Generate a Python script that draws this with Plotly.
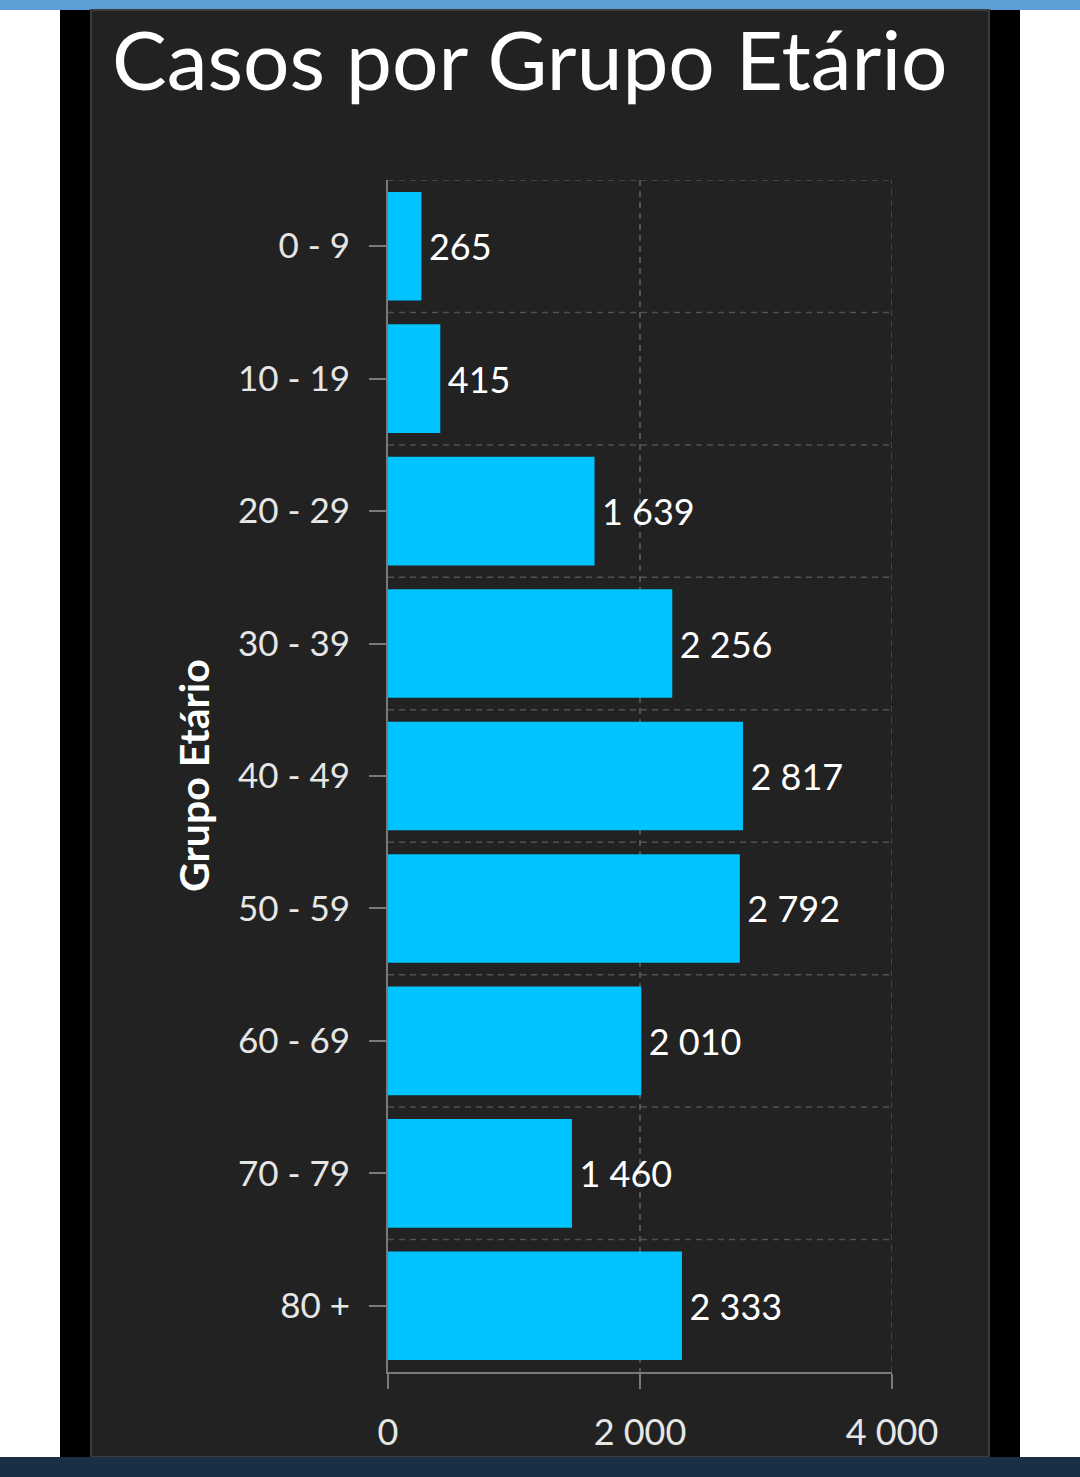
import plotly.graph_objects as go

grupos = ["0 - 9", "10 - 19", "20 - 29", "30 - 39", "40 - 49",
          "50 - 59", "60 - 69", "70 - 79", "80 +"]
casos = [265, 415, 1639, 2256, 2817, 2792, 2010, 1460, 2333]
x_ticks = [0, 2000, 4000]

W, H = 1080, 1477
# plot area in pixels
L, R, T, B = 388, 892, 180, 1372


def px(x):
    return (x - L) / (R - L)


def py(y):
    return (B - y) / (B - T)


fig = go.Figure(go.Bar(
    x=casos, y=grupos, orientation="h",
    marker=dict(color="#00c3ff", line_width=0),
    texttemplate="\u2009%{x:,}", textposition="outside",
    textfont=dict(size=36, color="white"),
    constraintext="none", cliponaxis=False,
    hoverinfo="skip",
))

grid = dict(color="#525252", width=1.5, dash="6px,5px")
shapes = [
    dict(type="rect", xref="paper", yref="paper", x0=px(0), x1=px(W),
         y0=py(0), y1=py(10), fillcolor="#5b9fd6", line_width=0, layer="below"),
    dict(type="rect", xref="paper", yref="paper", x0=px(60), x1=px(1020),
         y0=py(10), y1=py(1457), fillcolor="#000000", line_width=0, layer="below"),
    dict(type="rect", xref="paper", yref="paper", x0=px(91), x1=px(989),
         y0=py(10), y1=py(1457), fillcolor="#222222",
         line=dict(color="#3c3c3c", width=2), layer="below"),
    dict(type="rect", xref="paper", yref="paper", x0=px(0), x1=px(W),
         y0=py(1457), y1=py(H), fillcolor="#1a2e44", line_width=0, layer="below"),
    # right edge gridline (4000)
    dict(type="line", xref="x", yref="paper", x0=x_ticks[-1], x1=x_ticks[-1],
         y0=0, y1=1, layer="below", line=grid),
]
# dashed lines between the age groups
for i in range(len(grupos)):
    shapes.append(dict(type="line", xref="paper", yref="y", x0=0, x1=1,
                       y0=i - 0.5, y1=i - 0.5, layer="below", line=grid))

fig.update_layout(
    width=W, height=H,
    margin=dict(l=L, r=W - R, t=T, b=H - B, pad=0),
    paper_bgcolor="white", plot_bgcolor="rgba(0,0,0,0)",
    font=dict(family="Lato", color="#e6e6e6"),
    separators=". ",
    bargap=0.18,
    showlegend=False,
    shapes=shapes,
    annotations=[
        dict(text="Casos por Grupo Etário", xref="paper", yref="paper",
             x=px(110), y=py(58), xanchor="left", yanchor="middle",
             showarrow=False, font=dict(size=82, color="white")),
        dict(text="<b>Grupo Etário</b>", xref="paper", yref="paper",
             x=px(193), y=py(776), textangle=-90, showarrow=False,
             xanchor="center", yanchor="middle",
             font=dict(size=41, color="white")),
    ],
)

fig.update_xaxes(
    range=[0, 4000], tickvals=x_ticks, tickformat=",",
    showgrid=True, gridcolor=grid["color"], griddash=grid["dash"], gridwidth=1.5,
    zeroline=False, showline=True, linecolor="#7a7a7a", linewidth=2,
    ticks="outside", ticklen=15, tickwidth=2, tickcolor="#7a7a7a",
    tickfont=dict(size=36, color="#e6e6e6"), ticklabelstandoff=13,
)
fig.update_yaxes(
    range=[len(grupos) - 0.5, -0.5], showgrid=False, zeroline=False,
    showline=True, linecolor="#7a7a7a", linewidth=2,
    ticks="outside", ticklen=17, tickwidth=2, tickcolor="#7a7a7a",
    tickfont=dict(size=35, color="#e6e6e6"), ticklabelstandoff=12,
)

fig.write_html("out.html", config={"displayModeBar": False},
               post_script="document.body.style.margin = '0';")
